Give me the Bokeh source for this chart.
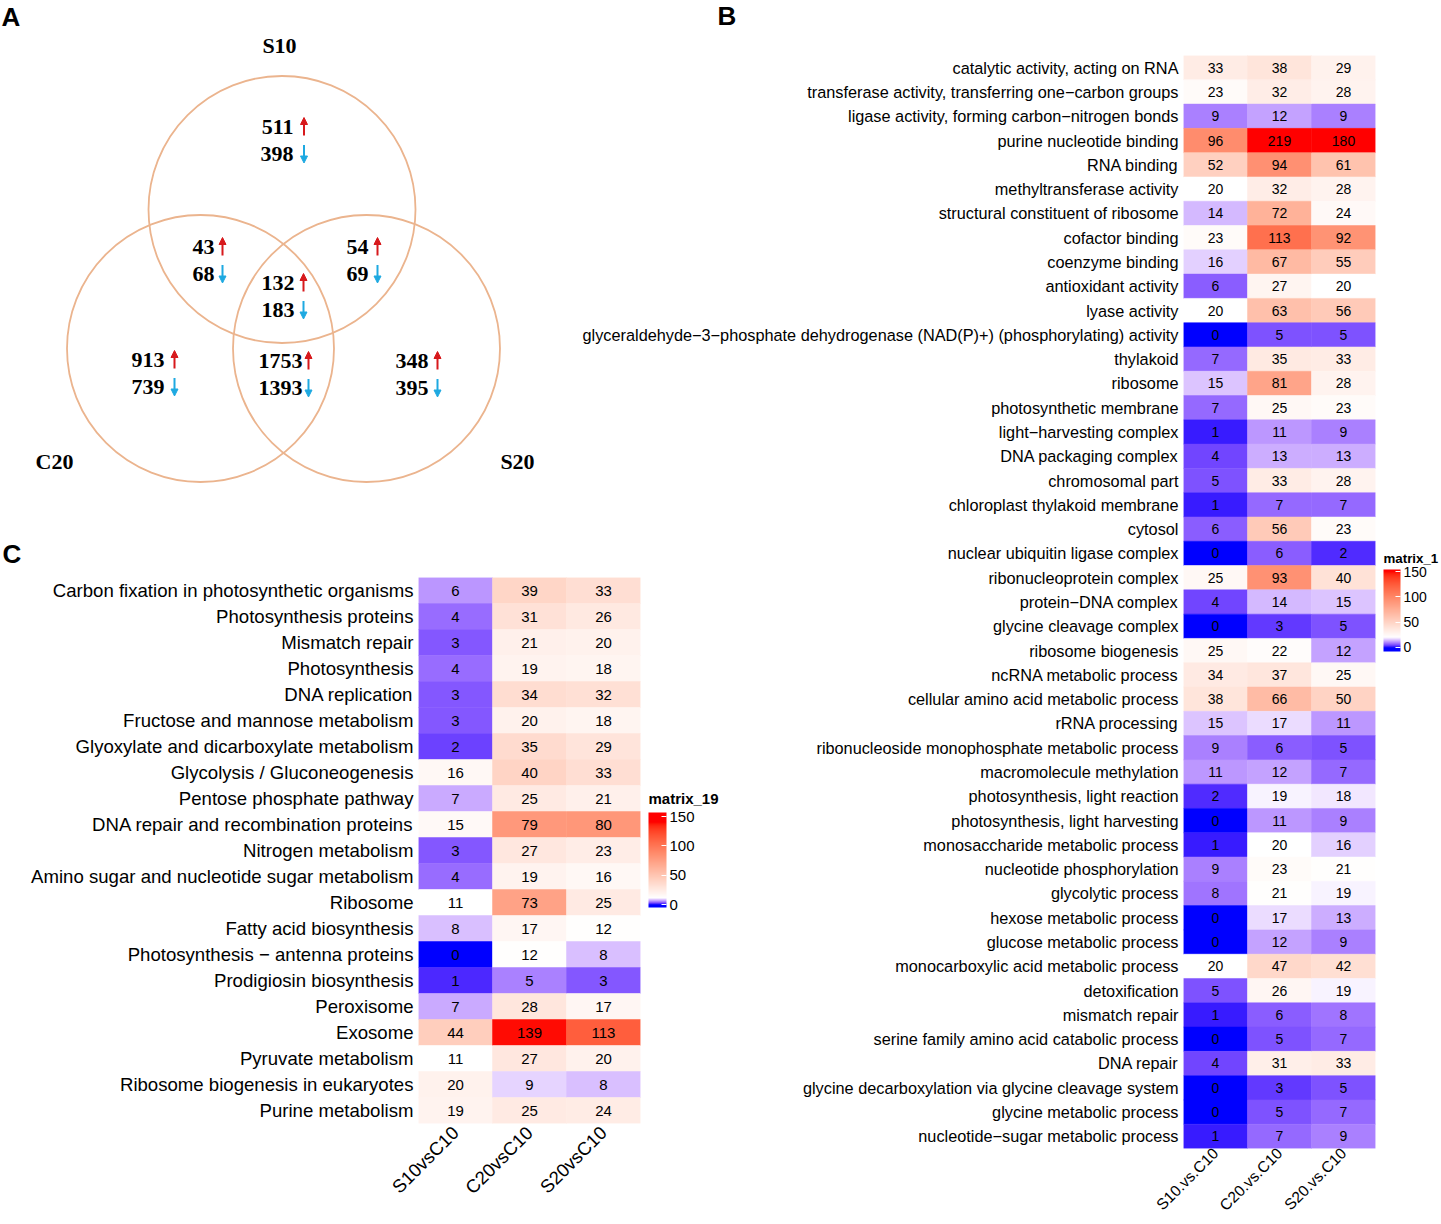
import numpy as np
from math import pi
from bokeh.plotting import figure
from bokeh.models import (ColumnDataSource, FactorRange, Range1d, LinearColorMapper,
                          ColorBar, FixedTicker, Arrow, NormalHead)
from bokeh.layouts import row, column
from bokeh.core.properties import value
from bokeh.transform import transform
from bokeh.embed import file_html
from bokeh.resources import INLINE

# =========================== DATA ===========================
# Panel A: Venn diagram of DEGs (up / down counts per region)
venn_sets = ["S10", "C20", "S20"]
venn_regions = ["S10 only", "S10∩C20", "S10∩S20", "S10∩C20∩S20", "C20 only", "C20∩S20", "S20 only"]
venn_up = [511, 43, 54, 132, 913, 1753, 348]
venn_down = [398, 68, 69, 183, 739, 1393, 395]

# Panel B: GO terms heatmap
go_columns = ["S10.vs.C10", "C20.vs.C10", "S20.vs.C10"]
go_terms = [
    "catalytic activity, acting on RNA",
    "transferase activity, transferring one−carbon groups",
    "ligase activity, forming carbon−nitrogen bonds",
    "purine nucleotide binding",
    "RNA binding",
    "methyltransferase activity",
    "structural constituent of ribosome",
    "cofactor binding",
    "coenzyme binding",
    "antioxidant activity",
    "lyase activity",
    "glyceraldehyde−3−phosphate dehydrogenase (NAD(P)+) (phosphorylating) activity",
    "thylakoid",
    "ribosome",
    "photosynthetic membrane",
    "light−harvesting complex",
    "DNA packaging complex",
    "chromosomal part",
    "chloroplast thylakoid membrane",
    "cytosol",
    "nuclear ubiquitin ligase complex",
    "ribonucleoprotein complex",
    "protein−DNA complex",
    "glycine cleavage complex",
    "ribosome biogenesis",
    "ncRNA metabolic process",
    "cellular amino acid metabolic process",
    "rRNA processing",
    "ribonucleoside monophosphate metabolic process",
    "macromolecule methylation",
    "photosynthesis, light reaction",
    "photosynthesis, light harvesting",
    "monosaccharide metabolic process",
    "nucleotide phosphorylation",
    "glycolytic process",
    "hexose metabolic process",
    "glucose metabolic process",
    "monocarboxylic acid metabolic process",
    "detoxification",
    "mismatch repair",
    "serine family amino acid catabolic process",
    "DNA repair",
    "glycine decarboxylation via glycine cleavage system",
    "glycine metabolic process",
    "nucleotide−sugar metabolic process",
]
go_s10 = [33, 23, 9, 96, 52, 20, 14, 23, 16, 6, 20, 0, 7, 15, 7, 1, 4, 5, 1, 6, 0, 25, 4, 0, 25,
          34, 38, 15, 9, 11, 2, 0, 1, 9, 8, 0, 0, 20, 5, 1, 0, 4, 0, 0, 1]
go_c20 = [38, 32, 12, 219, 94, 32, 72, 113, 67, 27, 63, 5, 35, 81, 25, 11, 13, 33, 7, 56, 6, 93, 14, 3, 22,
          37, 66, 17, 6, 12, 19, 11, 20, 23, 21, 17, 12, 47, 26, 6, 5, 31, 3, 5, 7]
go_s20 = [29, 28, 9, 180, 61, 28, 24, 92, 55, 20, 56, 5, 33, 28, 23, 9, 13, 28, 7, 23, 2, 40, 15, 5, 12,
          25, 50, 11, 5, 7, 18, 9, 16, 21, 19, 13, 9, 42, 19, 8, 7, 33, 5, 7, 9]
go_legend_title = "matrix_1"
go_breaks = [0, 20, 150]

# Panel C: KEGG pathways heatmap
kegg_columns = ["S10vsC10", "C20vsC10", "S20vsC10"]
kegg_terms = [
    "Carbon fixation in photosynthetic organisms",
    "Photosynthesis proteins",
    "Mismatch repair",
    "Photosynthesis",
    "DNA replication",
    "Fructose and mannose metabolism",
    "Glyoxylate and dicarboxylate metabolism",
    "Glycolysis / Gluconeogenesis",
    "Pentose phosphate pathway",
    "DNA repair and recombination proteins",
    "Nitrogen metabolism",
    "Amino sugar and nucleotide sugar metabolism",
    "Ribosome",
    "Fatty acid biosynthesis",
    "Photosynthesis − antenna proteins",
    "Prodigiosin biosynthesis",
    "Peroxisome",
    "Exosome",
    "Pyruvate metabolism",
    "Ribosome biogenesis in eukaryotes",
    "Purine metabolism",
]
kegg_s10 = [6, 4, 3, 4, 3, 3, 2, 16, 7, 15, 3, 4, 11, 8, 0, 1, 7, 44, 11, 20, 19]
kegg_c20 = [39, 31, 21, 19, 34, 20, 35, 40, 25, 79, 27, 19, 73, 17, 12, 5, 28, 139, 27, 9, 25]
kegg_s20 = [33, 26, 20, 18, 32, 18, 29, 33, 21, 80, 23, 16, 25, 12, 8, 3, 17, 113, 20, 8, 24]
kegg_legend_title = "matrix_19"
kegg_breaks = [0, 11, 140]

legend_ticks = [0, 50, 100, 150]
panel_letters = ["A", "B", "C"]

# =========================== STYLE / LAYOUT ===========================
SANS = "Liberation Sans"
SERIF = "Liberation Serif"
BLUE, WHITE_C, RED = "#0000FF", "#FFFFFF", "#FF0000"
VENN_LINE = "#EBB48E"
ARROW_UP = "#D7191C"
ARROW_DOWN = "#1EA9E1"
PAGE_W, PAGE_H = 1439, 1222

# venn layout (page pixel coordinates)
VENN_CIRCLES = {"S10": (281.5, 209.0), "C20": (200.0, 348.0), "S20": (366.0, 348.0)}
VENN_R = 133.5
VENN_SET_LABEL_POS = {"S10": (279, 45), "C20": (54, 461), "S20": (517, 461)}
# (number right edge, arrow x, y of the "up" line) for each region
VENN_REGION_POS = [(293, 303.5, 126), (214, 222, 246), (368, 377, 246), (294, 303, 282),
                   (164, 174, 359), (302, 308, 360), (428, 437, 360)]
VENN_LINE_GAP = 27.5
LETTER_POS = [(1, 16), (717, 15), (2, 553)]
LEGEND_TITLE_POS = {"C": (648, 798), "B": (1383, 558)}


# ---------- LAB colour interpolation (like colorRamp2) ----------
_M = np.array([[0.4124564, 0.3575761, 0.1804375],
               [0.2126729, 0.7151522, 0.0721750],
               [0.0193339, 0.1191920, 0.9503041]])
_Minv = np.linalg.inv(_M)
_WP = np.array([0.95047, 1.0, 1.08883])
_d = 6 / 29


def _lin(c):
    c = np.asarray(c, float) / 255.0
    return np.where(c <= 0.04045, c / 12.92, ((c + 0.055) / 1.055) ** 2.4)


def _gam(c):
    c = np.clip(c, 0, None)
    return np.where(c <= 0.0031308, 12.92 * c, 1.055 * np.power(c, 1 / 2.4) - 0.055)


def _f(t):
    return np.where(t > _d ** 3, np.cbrt(t), t / (3 * _d * _d) + 4 / 29)


def _finv(t):
    return np.where(t > _d, t ** 3, 3 * _d * _d * (t - 4 / 29))


def hex2rgb(h):
    h = h.lstrip("#")
    return [int(h[i:i + 2], 16) for i in (0, 2, 4)]


def rgb2lab(rgb):
    xyz = (_M @ _lin(rgb)) / _WP
    fx, fy, fz = _f(xyz)
    return np.array([116 * fy - 16, 500 * (fx - fy), 200 * (fy - fz)])


def lab2hex(lab):
    L, a, b = lab
    fy = (L + 16) / 116
    fx = fy + a / 500
    fz = fy - b / 200
    xyz = _finv(np.array([fx, fy, fz])) * _WP
    rgb = np.clip(np.round(_gam(_Minv @ xyz) * 255), 0, 255).astype(int)
    return "#%02x%02x%02x" % tuple(rgb)


def ramp_palette(breaks, colors, lo, hi, per_unit=2):
    labs = [rgb2lab(hex2rgb(c)) for c in colors]
    n = int(round((hi - lo) * per_unit))
    out = []
    for i in range(n):
        v = lo + (hi - lo) * i / n
        if v <= breaks[0]:
            lab = labs[0]
        elif v >= breaks[-1]:
            lab = labs[-1]
        else:
            k = int(np.searchsorted(breaks, v, side="right")) - 1
            t = (v - breaks[k]) / (breaks[k + 1] - breaks[k])
            lab = labs[k] + t * (labs[k + 1] - labs[k])
        out.append(lab2hex(lab))
    return out


def heatmap(terms, cols, series, breaks, bar_range, width, height, borders,
            label_px, cell_px, xlabel_px, xstand):
    xs, ys, vs = [], [], []
    for c, vals in zip(cols, series):
        for t, v in zip(terms, vals):
            xs.append(c)
            ys.append(t)
            vs.append(v)
    src = ColumnDataSource(dict(x=xs, y=ys, v=vs, txt=[str(v) for v in vs]))
    lo, hi = bar_range
    mapper = LinearColorMapper(palette=ramp_palette(breaks, [BLUE, WHITE_C, RED], lo, hi),
                               low=lo, high=hi, low_color=BLUE, high_color=RED)
    left, right, top, bottom = borders
    p = figure(x_range=FactorRange(factors=list(cols)),
               y_range=FactorRange(factors=list(reversed(terms))),
               width=width, height=height, output_backend="svg", toolbar_location=None,
               min_border_left=left, min_border_right=right,
               min_border_top=top, min_border_bottom=bottom)
    p.rect(x="x", y="y", width=1, height=1, source=src,
           fill_color=transform("v", mapper), line_color=transform("v", mapper), line_width=0.5)
    p.text(x="x", y="y", text="txt", source=src, text_align="center", text_baseline="middle",
           text_font=value(SANS), text_font_size=value(cell_px), text_color="black")
    for ax in p.axis:
        ax.axis_line_color = None
        ax.major_tick_line_color = None
        ax.minor_tick_line_color = None
        ax.major_tick_in = 0
        ax.major_tick_out = 0
        ax.major_label_standoff = 5
        ax.major_label_text_font = SANS
        ax.major_label_text_color = "black"
    p.yaxis.major_label_text_font_size = label_px
    p.xaxis.major_label_text_font_size = xlabel_px
    p.xaxis.major_label_orientation = pi / 4
    p.xaxis.major_label_standoff = xstand
    p.xgrid.visible = False
    p.ygrid.visible = False
    p.outline_line_color = None
    p.background_fill_alpha = 0
    p.border_fill_alpha = 0
    return p, mapper


def legend_bar(p, mapper, loc, w, h, label_px):
    p.add_layout(ColorBar(color_mapper=mapper, location=loc, width=w, height=h, padding=0, margin=0,
                          ticker=FixedTicker(ticks=legend_ticks),
                          major_label_text_font=SANS, major_label_text_font_size=label_px,
                          major_label_text_color="black", label_standoff=3,
                          major_tick_line_color="white", major_tick_in=5, major_tick_out=0,
                          minor_tick_line_color=None, bar_line_color=None, border_line_color=None,
                          background_fill_alpha=0))


# =========================== BASE LAYER: PANEL A + letters + legend titles ===========================
ov = figure(width=PAGE_W, height=PAGE_H, x_range=Range1d(0, PAGE_W), y_range=Range1d(PAGE_H, 0),
            x_axis_type=None, y_axis_type=None, output_backend="svg", toolbar_location=None,
            min_border=0)
ov.outline_line_color = None
ov.grid.visible = False

ov.circle(x=[VENN_CIRCLES[s][0] for s in venn_sets], y=[VENN_CIRCLES[s][1] for s in venn_sets],
          radius=VENN_R, fill_color=None, line_color=VENN_LINE, line_width=1.8)
ov.text(x=[VENN_SET_LABEL_POS[s][0] for s in venn_sets], y=[VENN_SET_LABEL_POS[s][1] for s in venn_sets],
        text=venn_sets, text_align="center", text_baseline="middle", text_font=value(SERIF),
        text_font_style="bold", text_font_size=value("22px"), text_color="black")

nx = [p_[0] for p_ in VENN_REGION_POS]
axx = [p_[1] for p_ in VENN_REGION_POS]
yu = [p_[2] for p_ in VENN_REGION_POS]
yd = [y + VENN_LINE_GAP for y in yu]
ov.text(x=nx + nx, y=yu + yd, text=[str(v) for v in venn_up] + [str(v) for v in venn_down],
        text_align="right", text_baseline="middle", text_font=value(SERIF),
        text_font_style="bold", text_font_size=value("22px"), text_color="black")

up_src = ColumnDataSource(dict(x=axx, y0=[y + 9 for y in yu], y1=[y - 9 for y in yu]))
dn_src = ColumnDataSource(dict(x=axx, y0=[y - 9 for y in yd], y1=[y + 9 for y in yd]))
ov.add_layout(Arrow(end=NormalHead(size=7, fill_color=ARROW_UP, line_color=ARROW_UP, line_width=1),
                    x_start="x", y_start="y0", x_end="x", y_end="y1", source=up_src,
                    line_color=ARROW_UP, line_width=2))
ov.add_layout(Arrow(end=NormalHead(size=7, fill_color=ARROW_DOWN, line_color=ARROW_DOWN, line_width=1),
                    x_start="x", y_start="y0", x_end="x", y_end="y1", source=dn_src,
                    line_color=ARROW_DOWN, line_width=2))
ov.text(x=[p_[0] for p_ in LETTER_POS], y=[p_[1] for p_ in LETTER_POS], text=panel_letters,
        text_align="left", text_baseline="middle", text_font=value(SANS), text_font_style="bold",
        text_font_size=value("26px"), text_color="black")
ov.text(x=[LEGEND_TITLE_POS["C"][0]], y=[LEGEND_TITLE_POS["C"][1]], text=[kegg_legend_title],
        text_align="left", text_baseline="middle", text_font=value(SANS), text_font_style="bold",
        text_font_size=value("15px"), text_color="black")
ov.text(x=[LEGEND_TITLE_POS["B"][0]], y=[LEGEND_TITLE_POS["B"][1]], text=[go_legend_title],
        text_align="left", text_baseline="middle", text_font=value(SANS), text_font_style="bold",
        text_font_size=value("13.3px"), text_color="black")

# =========================== PANEL C ===========================
cp, cmap = heatmap(kegg_terms, kegg_columns, [kegg_s10, kegg_c20, kegg_s20], kegg_breaks, (-5, 157),
                   width=730, height=650, borders=(418, 90, 5, 99),
                   label_px="18.6px", cell_px="15px", xlabel_px="18.5px", xstand=6)
legend_bar(cp, cmap, (230, 216), 18, 95, "15px")

# =========================== PANEL B ===========================
bp, bmap = heatmap(go_terms, go_columns, [go_s10, go_c20, go_s20], go_breaks, (-8, 154),
                   width=869, height=PAGE_H, borders=(613, 64, 55, 74),
                   label_px="16.3px", cell_px="14px", xlabel_px="15.5px", xstand=2)
legend_bar(bp, bmap, (200, 497), 17, 82, "14px")

base = column(ov)
c_box = column(cp)
c_box.margin = (572, 0, 0, -PAGE_W)
b_box = column(bp)
b_box.margin = (0, 0, 0, -160)

layout = row(base, c_box, b_box)
open("out.html", "w").write(file_html(layout, INLINE))
